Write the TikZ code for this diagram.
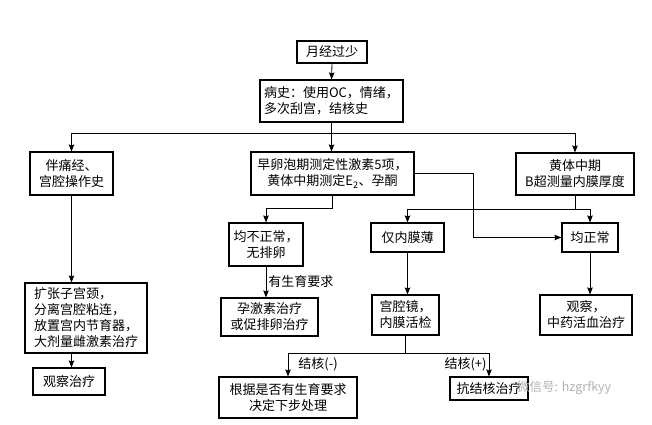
\documentclass[tikz,border=0pt]{standalone}
\usepackage{fontspec}
\setmainfont{Noto Sans CJK SC}
\usetikzlibrary{arrows.meta, positioning}

\begin{document}
\begin{tikzpicture}[x=1pt, y=-1pt,
        box/.style={draw, line width=1.1pt, inner sep=1pt, align=center, font=\fontsize{13}{16}\selectfont},
        ar/.style={-{Stealth[length=7pt, width=5.5pt, inset=1pt]}, line width=0.8pt},
        lbl/.style={font=\fontsize{13}{15}\selectfont, inner sep=2pt}]

        % fixing the page to the size of the reference
        \useasboundingbox (0,0) rectangle (652,424);

        % first two boxes
        \node[box, minimum width=70pt, minimum height=22pt] (start) at (332,52) {月经过少};
        \node[box, minimum width=143pt, minimum height=42pt, align=left] (hist) at (331.5,101) {病史：使用OC，情绪，\\多次刮宫，结核史};

        % the three branches
        \node[box, minimum width=83pt, minimum height=43pt] (pain) at (71.5,173.5) {伴痛经、\\宫腔操作史};
        \node[box, minimum width=163pt, minimum height=43pt] (horm) at (332.5,173.5) {早卵泡期测定性激素5项，\\黄体中期测定E\textsubscript{2}、孕酮};
        \node[box, minimum width=118pt, minimum height=42pt] (luteal) at (575,174) {黄体中期\\B超测量内膜厚度};

        % left branch
        \node[box, minimum width=122pt, minimum height=70pt, align=left] (dilate) at (86,318) {扩张子宫颈，\\分离宫腔粘连，\\放置宫内节育器，\\大剂量雌激素治疗};
        \node[box, minimum width=72pt, minimum height=27pt] (obs1) at (69,381.5) {观察治疗};

        % middle branch
        \node[box, minimum width=74pt, minimum height=43pt] (anov) at (266,244.5) {均不正常，\\无排卵};
        \node[box, minimum width=97pt, minimum height=38pt] (prog) at (269.5,317) {孕激素治疗\\或促排卵治疗};

        % right branch
        \node[box, minimum width=73pt, minimum height=29pt] (thin) at (407.5,237.5) {仅内膜薄};
        \node[box, minimum width=56pt, minimum height=29pt] (norm) at (590,237.5) {均正常};
        \node[box, minimum width=67pt, minimum height=40pt] (hyst) at (405.5,315) {宫腔镜，\\内膜活检};
        \node[box, minimum width=92pt, minimum height=40pt] (obs2) at (586,315) {观察，\\中药活血治疗};
        \node[box, minimum width=138pt, minimum height=41pt] (decide) at (288,397.5) {根据是否有生育要求\\决定下步处理};
        \node[box, minimum width=78pt, minimum height=23pt] (antitb) at (489,388.5) {抗结核治疗};

        % watermark
        \node[anchor=west, text=gray!60, font=\fontsize{12.5}{14}\selectfont, inner sep=0pt] (mark) at (517,388) {微信号: hzgrfkyy};

        % connectors at the top
        \draw[ar] (start.south) -- (hist.north);
        \coordinate (t1) at (hist.south |- 0,133);
        \draw[line width=0.8pt] (hist.south) -- (t1);
        \draw[ar] (t1) -| (pain.north);
        \draw[ar] (t1) -- (t1 |- horm.north);
        \draw[ar] (t1) -| (luteal.north);

        % left column
        \draw[ar] (pain.south) -- (pain.south |- dilate.north);
        \draw[ar] (pain.south |- dilate.south) -- (pain.south |- obs1.north);

        % hormone tests
        \draw[ar] (horm.south) -- ++(0,13) -| (anov.north);
        \draw[ar] (anov.south) -- node[lbl, right] {有生育要求} (anov.south |- prog.north);
        \draw[ar] (horm.east) -- ++(59,0) |- (norm.west);

        % ultrasound
        \coordinate (t2) at (luteal.south |- 0,209);
        \draw[line width=0.8pt] (luteal.south) -- (t2);
        \draw[ar] (t2) -| (thin.north);
        \draw[ar] (t2) -| (norm.north);
        \draw[ar] (thin.south) -- (thin.south |- hyst.north);
        \draw[ar] (norm.south) -- (norm.south |- obs2.north);

        % biopsy result
        \coordinate (t3) at (hyst.south |- 0,353);
        \draw[line width=0.8pt] (hyst.south) -- (t3);
        \draw[ar] (t3) -| node[lbl, pos=0.75, right, xshift=8pt] {结核(-)} (decide.north);
        \draw[ar] (t3) -| node[lbl, pos=0.75, left] {结核(+)} (antitb.north);

\end{tikzpicture}
\end{document}
